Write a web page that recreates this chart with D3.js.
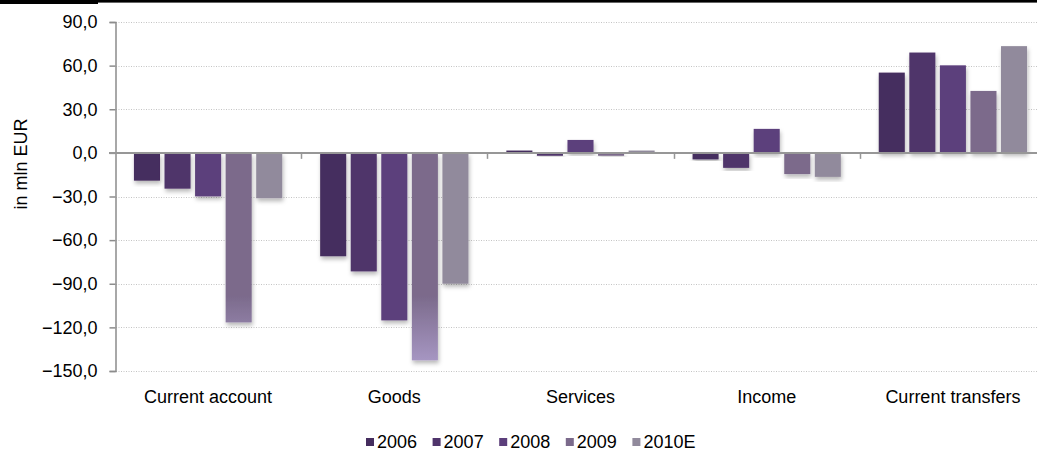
<!DOCTYPE html>
<html>
<head>
<meta charset="utf-8">
<script src="https://cdn.jsdelivr.net/npm/d3@7"></script>
<style>
  html, body { margin: 0; padding: 0; background: #fff; }
  svg { display: block; font-family: "Liberation Sans", Arial, sans-serif; }
</style>
</head>
<body>
<svg id="chart" width="1037" height="453"></svg>
<script>
// Current account components, in mln EUR
const categories = ["Current account", "Goods", "Services", "Income", "Current transfers"];
const years = ["2006", "2007", "2008", "2009", "2010E"];
const values2006 = [-19.1, -71.1, 1.6, -4.5, 55.2];
const values2007 = [-24.6, -81.5, -2.0, -10.3, 69.0];
const values2008 = [-29.9, -115.2, 8.9, 16.5, 60.2];
const values2009 = [-116.6, -142.7, -2.0, -14.6, 42.6];
const values2010E = [-31.2, -90.0, 1.6, -16.5, 73.4];
const yTicks = [90, 60, 30, 0, -30, -60, -90, -120, -150];
const colors = ["#452d5e", "#4f346b", "#5c3f7b", "#7b6a8b", "#918a9c"];

const seriesValues = [values2006, values2007, values2008, values2009, values2010E];

const svg = d3.select("#chart");

const x0 = d3.scaleBand().domain(categories).range([115, 1046]).padding(0);
const x1 = d3.scaleBand().domain(years).range([0, x0.bandwidth()])
  .paddingInner(0.148).paddingOuter(0.62);
const y = d3.scaleLinear().domain([-150, 90]).range([371, 22]);

const defs = svg.append("defs");
const shadow = defs.append("filter").attr("id", "barShadow")
  .attr("x", "-20%").attr("y", "-20%").attr("width", "140%").attr("height", "140%");
shadow.append("feDropShadow").attr("dx", 1).attr("dy", 3).attr("stdDeviation", 2)
  .attr("flood-color", "#000").attr("flood-opacity", 0.28);

// 2009 bars fade to a lighter lavender toward the bottom of the scale
const grad = defs.append("linearGradient").attr("id", "fade2009")
  .attr("gradientUnits", "userSpaceOnUse")
  .attr("x1", 0).attr("x2", 0).attr("y1", y(-98)).attr("y2", y(-143));
grad.append("stop").attr("offset", 0).attr("stop-color", colors[3]);
grad.append("stop").attr("offset", 1).attr("stop-color", "#a696c2");

// top rule
svg.append("rect").attr("x", 0).attr("y", 0).attr("width", 98).attr("height", 4).attr("fill", "#000");
svg.append("rect").attr("x", 98).attr("y", 0).attr("width", 939).attr("height", 2.6).attr("fill", "#000");

// gridlines
svg.append("g").selectAll("line").data(yTicks.filter(d => d !== 0)).join("line")
  .attr("x1", 116).attr("x2", 1037)
  .attr("y1", d => Math.round(y(d)) + 0.5).attr("y2", d => Math.round(y(d)) + 0.5)
  .attr("stroke", "#c4c4c4").attr("stroke-width", 1).attr("stroke-dasharray", "1,1.5");

// y axis
const yAxis = d3.axisLeft(y).tickValues(yTicks).tickSize(6).tickPadding(12)
  .tickFormat(d => d3.format(".1f")(d).replace(".", ","));
const gy = svg.append("g").attr("transform", "translate(115.5,0)").call(yAxis);
gy.select(".domain").attr("stroke", "#8c8c8c").attr("stroke-width", 1.5);
gy.selectAll(".tick line").attr("stroke", "#8c8c8c").attr("stroke-width", 1.5);
gy.selectAll(".tick text").attr("fill", "#000").attr("font-size", 18)
  .attr("font-family", "Liberation Sans, Arial, sans-serif");

// y axis title
svg.append("text").attr("transform", "translate(27,164) rotate(-90)")
  .attr("text-anchor", "middle").attr("font-size", 18).attr("fill", "#000")
  .text("in mln EUR");

// bars
const groups = svg.append("g").selectAll("g").data(categories).join("g")
  .attr("transform", d => `translate(${x0(d)},0)`);
groups.selectAll("rect")
  .data((c, ci) => years.map((yr, si) => ({ yr, si, v: seriesValues[si][ci] })))
  .join("rect")
  .attr("x", d => x1(d.yr))
  .attr("width", x1.bandwidth())
  .attr("y", d => y(Math.max(0, d.v)))
  .attr("height", d => Math.abs(y(d.v) - y(0)))
  .attr("fill", d => d.si === 3 ? "url(#fade2009)" : colors[d.si])
  .attr("filter", "url(#barShadow)");

// zero line with category dividers
const gx = svg.append("g").attr("transform", `translate(0,${y(0)})`);
gx.append("line").attr("x1", 109).attr("x2", 1037).attr("y1", 0).attr("y2", 0)
  .attr("stroke", "#979797").attr("stroke-width", 2);
gx.selectAll(".div").data(categories.slice(1)).join("line").attr("class", "div")
  .attr("x1", d => Math.round(x0(d)) + 0.5).attr("x2", d => Math.round(x0(d)) + 0.5)
  .attr("y1", 0).attr("y2", 6).attr("stroke", "#979797").attr("stroke-width", 1.5);

// category labels
svg.append("g").selectAll("text").data(categories).join("text")
  .attr("x", d => x0(d) + x0.bandwidth() / 2)
  .attr("y", 403)
  .attr("text-anchor", "middle").attr("font-size", 18).attr("fill", "#000")
  .text(d => d);

// legend
const legend = svg.append("g").selectAll("g").data(years).join("g")
  .attr("transform", (d, i) => `translate(${366 + i * 66.6},0)`);
legend.append("rect").attr("x", 0).attr("y", 438).attr("width", 8).attr("height", 8)
  .attr("fill", (d, i) => colors[i]);
legend.append("text").attr("x", 11).attr("y", 448).attr("font-size", 18).attr("fill", "#000")
  .text(d => d);
</script>
</body>
</html>
